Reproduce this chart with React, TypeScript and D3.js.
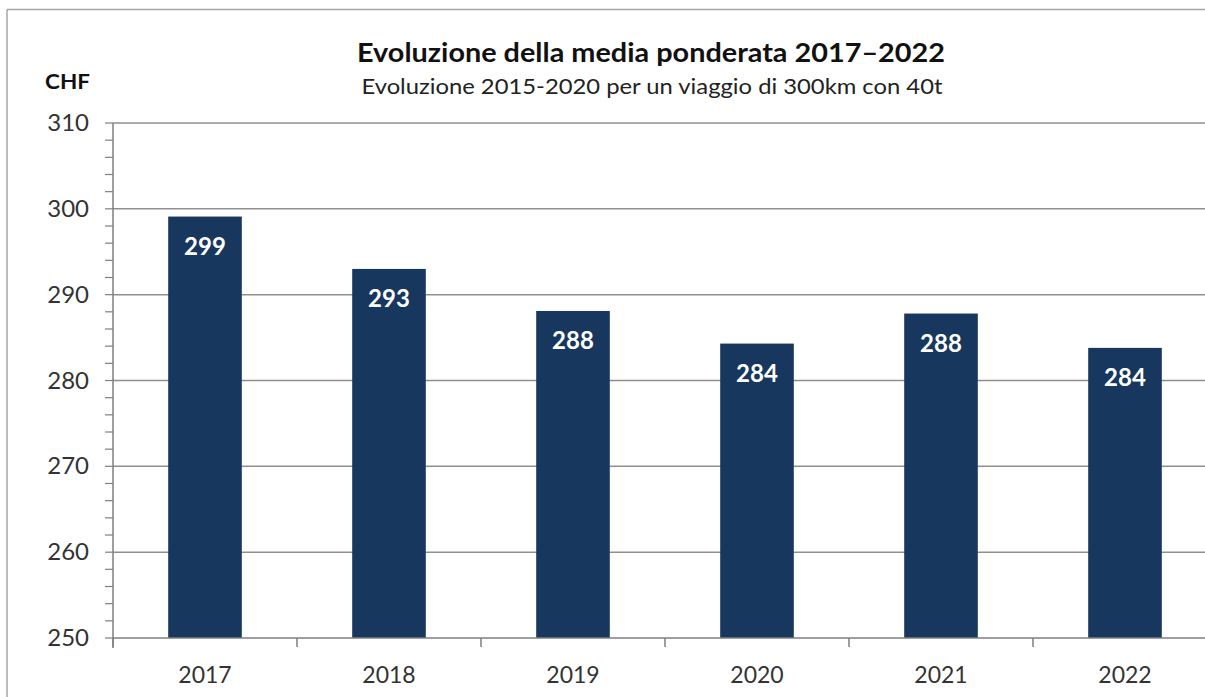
import React from "react";
import * as d3 from "d3";

const years = ["2017", "2018", "2019", "2020", "2021", "2022"];
const values = [299.1, 293.0, 288.1, 284.3, 287.8, 283.8];
const labels = ["299", "293", "288", "284", "288", "284"];
const yTicks = [250, 260, 270, 280, 290, 300, 310];
const yMinorTicks = d3.range(250, 310.01, 2);
const title = "Evoluzione della media ponderata 2017–2022";
const subtitle = "Evoluzione 2015-2020 per un viaggio di 300km con 40t";
const unit = "CHF";

const W = 1205;
const H = 697;
const FONT = "Lato, 'Open Sans', sans-serif";

export default function App() {
  const plotLeft = 113;
  const plotRight = 1217;
  const plotTop = 123;
  const plotBottom = 638;

  const xGrid = d3.scaleBand<string>().domain(years).range([plotLeft, plotRight]).padding(0);
  const xBar = d3
    .scaleBand<string>()
    .domain(years)
    .range([plotLeft, plotRight])
    .paddingInner(0.6)
    .paddingOuter(0.3);
  const y = d3.scaleLinear().domain([250, 310]).range([plotBottom, plotTop]);

  const gridColor = "#8f8f8f";
  const axisColor = "#7f7f7f";
  const barColor = "#17375E";

  const boundaries = years.map((d) => xGrid(d) as number);

  return (
    <svg
      width={W}
      height={H}
      style={{ position: "absolute", left: 0, top: 0, background: "#fff" }}
    >
      <rect x={0} y={0} width={W} height={H} fill="#fff" />
      {/* outer chart frame */}
      <line x1={7} x2={W} y1={9.5} y2={9.5} stroke="#a6a6a6" strokeWidth={1.5} />
      <line x1={7} x2={7} y1={9.5} y2={H} stroke="#a6a6a6" strokeWidth={1.5} />

      {/* titles */}
      <text
        x={651}
        y={62}
        textAnchor="middle"
        fontFamily={FONT}
        fontWeight={700}
        fontSize={27}
        fill="#111"
        textLength={588}
        lengthAdjust="spacingAndGlyphs"
      >
        {title}
      </text>
      <text
        x={652}
        y={94}
        textAnchor="middle"
        fontFamily={FONT}
        fontSize={21}
        fill="#222"
        textLength={581}
        lengthAdjust="spacingAndGlyphs"
      >
        {subtitle}
      </text>
      <text
        x={45}
        y={89}
        fontFamily={FONT}
        fontWeight={700}
        fontSize={20}
        fill="#111"
        textLength={45}
        lengthAdjust="spacingAndGlyphs"
      >
        {unit}
      </text>

      {/* gridlines */}
      {yTicks
        .filter((t) => t !== 250)
        .map((t) => (
          <line
            key={"g" + t}
            x1={plotLeft}
            x2={W}
            y1={y(t)}
            y2={y(t)}
            stroke={gridColor}
            strokeWidth={1.5}
          />
        ))}

      {/* bars */}
      {years.map((yr, i) => (
        <rect
          key={"b" + yr}
          x={xBar(yr) as number}
          y={y(values[i])}
          width={xBar.bandwidth()}
          height={plotBottom - y(values[i])}
          fill={barColor}
        />
      ))}
      {years.map((yr, i) => (
        <text
          key={"l" + yr}
          x={(xBar(yr) as number) + xBar.bandwidth() / 2}
          y={y(values[i]) + 38}
          textAnchor="middle"
          fontFamily={FONT}
          fontWeight={700}
          fontSize={24}
          fill="#fff"
        >
          {labels[i]}
        </text>
      ))}

      {/* y axis */}
      <line x1={plotLeft} x2={plotLeft} y1={plotTop} y2={plotBottom + 10} stroke={axisColor} strokeWidth={1.5} />
      {yMinorTicks.map((t) => (
        <line
          key={"m" + t}
          x1={plotLeft - 8}
          x2={plotLeft}
          y1={y(t)}
          y2={y(t)}
          stroke={axisColor}
          strokeWidth={1.2}
        />
      ))}
      {yTicks.map((t) => (
        <text
          key={"yt" + t}
          x={89}
          y={y(t) + 8}
          textAnchor="end"
          fontFamily={FONT}
          fontSize={24}
          fill="#333"
        >
          {t}
        </text>
      ))}

      {/* x axis */}
      <line x1={plotLeft} x2={W} y1={plotBottom} y2={plotBottom} stroke={axisColor} strokeWidth={1.5} />
      {boundaries.map((b, i) => (
        <line
          key={"xt" + i}
          x1={b}
          x2={b}
          y1={plotBottom}
          y2={plotBottom + 9}
          stroke={axisColor}
          strokeWidth={1.5}
        />
      ))}
      {years.map((yr) => (
        <text
          key={"xl" + yr}
          x={(xGrid(yr) as number) + xGrid.bandwidth() / 2}
          y={683}
          textAnchor="middle"
          fontFamily={FONT}
          fontSize={23}
          fill="#333"
        >
          {yr}
        </text>
      ))}
    </svg>
  );
}
